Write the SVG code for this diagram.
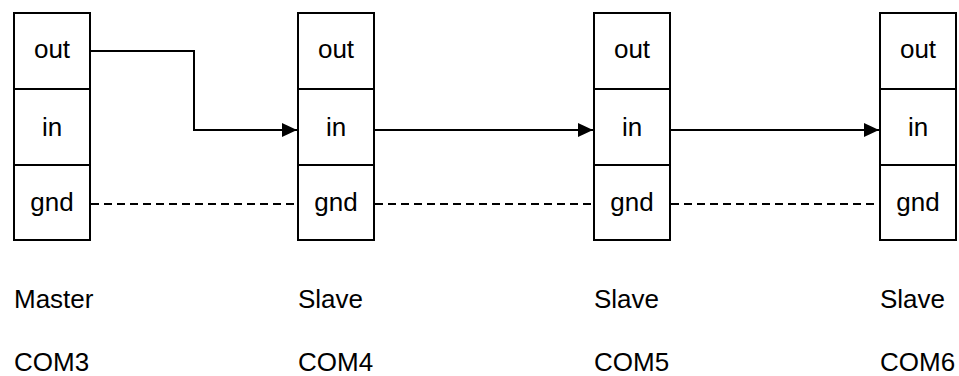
<svg xmlns="http://www.w3.org/2000/svg" width="959" height="376" viewBox="0 0 959 376">
  <style>
    .box { fill: #ffffff; stroke: #000000; stroke-width: 2; }
    .sep { stroke: #000000; stroke-width: 2; }
    .t { font-family: "Liberation Sans", Arial, sans-serif; font-size: 26px; fill: #000000; }
    .c { text-anchor: middle; }
    .wire { fill: none; stroke: #000000; stroke-width: 2; }
    .dash { fill: none; stroke: #000000; stroke-width: 2; stroke-dasharray: 8 5; }
  </style>
  <defs>
    <marker id="arrow" markerUnits="userSpaceOnUse" markerWidth="16" markerHeight="15" refX="15" refY="7" orient="auto">
      <path d="M0,0 L15,7 L0,14 Z" fill="#000000"/>
    </marker>
  </defs>
  <rect width="959" height="376" fill="#ffffff"/>

  <g id="connectors">
    <path class="wire" d="M90,51 H194 V130 H297" marker-end="url(#arrow)"/>
    <path class="wire" d="M374,130 H593" marker-end="url(#arrow)"/>
    <path class="wire" d="M670,130 H879" marker-end="url(#arrow)"/>
    <path class="dash" d="M91,204 H297"/>
    <path class="dash" d="M375,204 H593"/>
    <path class="dash" d="M671,204 H879"/>
  </g>

  <g id="node-master">
    <rect class="box" x="14" y="13" width="76" height="227"/>
    <line class="sep" x1="14" y1="89" x2="90" y2="89"/>
    <line class="sep" x1="14" y1="165" x2="90" y2="165"/>
    <text class="t c" x="52" y="58">out</text>
    <text class="t c" x="52" y="136">in</text>
    <text class="t c" x="52" y="211">gnd</text>
  </g>
  <g id="node-slave1">
    <rect class="box" x="298" y="13" width="76" height="227"/>
    <line class="sep" x1="298" y1="89" x2="374" y2="89"/>
    <line class="sep" x1="298" y1="165" x2="374" y2="165"/>
    <text class="t c" x="336" y="58">out</text>
    <text class="t c" x="336" y="136">in</text>
    <text class="t c" x="336" y="211">gnd</text>
  </g>
  <g id="node-slave2">
    <rect class="box" x="594" y="13" width="76" height="227"/>
    <line class="sep" x1="594" y1="89" x2="670" y2="89"/>
    <line class="sep" x1="594" y1="165" x2="670" y2="165"/>
    <text class="t c" x="632" y="58">out</text>
    <text class="t c" x="632" y="136">in</text>
    <text class="t c" x="632" y="211">gnd</text>
  </g>
  <g id="node-slave3">
    <rect class="box" x="880" y="13" width="76" height="227"/>
    <line class="sep" x1="880" y1="89" x2="956" y2="89"/>
    <line class="sep" x1="880" y1="165" x2="956" y2="165"/>
    <text class="t c" x="918" y="58">out</text>
    <text class="t c" x="918" y="136">in</text>
    <text class="t c" x="918" y="211">gnd</text>
  </g>

  <g id="labels">
    <text class="t" x="14" y="308">Master</text>
    <text class="t" x="14" y="371">COM3</text>
    <text class="t" x="298" y="308">Slave</text>
    <text class="t" x="298" y="371">COM4</text>
    <text class="t" x="594" y="308">Slave</text>
    <text class="t" x="594" y="371">COM5</text>
    <text class="t" x="880" y="308">Slave</text>
    <text class="t" x="880" y="371">COM6</text>
  </g>
</svg>
